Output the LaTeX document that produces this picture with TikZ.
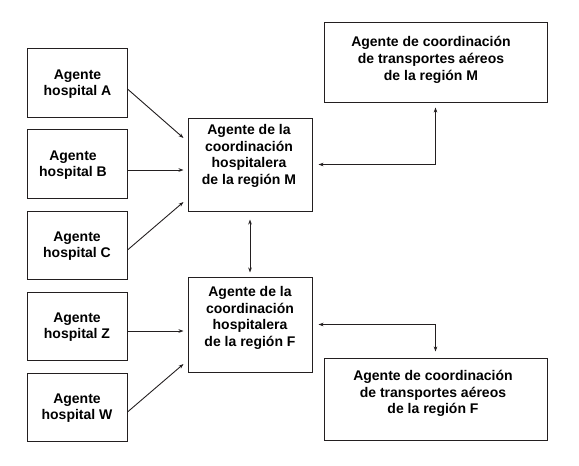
\documentclass[tikz,border=0pt]{standalone}
\usepackage{fontspec}
\setmainfont{Liberation Sans}
\usetikzlibrary{arrows.meta}
\definecolor{ink}{HTML}{231F20}
\begin{document}
\begin{tikzpicture}[x=1pt,y=-1pt,
  box/.style={draw=ink,line width=1pt,inner sep=0pt},
  txt/.style={text=black,align=center,inner sep=0pt,font=\fontsize{14}{16.7}\selectfont\bfseries},
  arr/.style={draw=ink,line width=0.9pt,-{Stealth[length=5pt,width=3.6pt]}},
  arrb/.style={draw=ink,line width=0.9pt,{Stealth[length=5pt,width=3.6pt]}-{Stealth[length=5pt,width=3.6pt]}}]
\useasboundingbox (0,0) rectangle (579,466);
% hospital boxes
\node[box,minimum width=100pt,minimum height=69pt] (a) at (77,82.5) {};
\node[box,minimum width=100pt,minimum height=69pt] (b) at (77,163.5) {};
\node[box,minimum width=100pt,minimum height=68pt] (c) at (77,245) {};
\node[box,minimum width=100pt,minimum height=68pt] (z) at (77,326) {};
\node[box,minimum width=100pt,minimum height=68pt] (w) at (77,407) {};
\node[txt] (at) at (77.5,84) {Agente\\hospital A};
\node[txt] (bt) at (73,165) {Agente\\hospital B};
\node[txt] (ct) at (77,246) {Agente\\hospital C};
\node[txt] (zt) at (77,327) {Agente\\hospital Z};
\node[txt] (wt) at (77,408) {Agente\\hospital W};
% coordination boxes
\node[box,minimum width=124pt,minimum height=93pt] (m) at (250,164.5) {};
\node[box,minimum width=124pt,minimum height=95pt] (f) at (250,324.5) {};
\node[txt] (mt) at (249,156) {Agente de la\\coordinación\\hospitalera\\de la región M};
\node[txt] (ft) at (250,318) {Agente de la\\coordinación\\hospitalera\\de la región F};
% transport boxes
\node[box,minimum width=223pt,minimum height=80pt] (tm) at (435.5,62) {};
\node[box,minimum width=223pt,minimum height=82pt] (tf) at (435.5,399) {};
\node[txt] (tmt) at (431,60) {Agente de coordinación\\de transportes aéreos\\de la región M};
\node[txt] (tft) at (433,393.5) {Agente de coordinación\\de transportes aéreos\\de la región F};
% connectors
\draw[arr] (a.east |- 0,89) -- ([xshift=-4pt]m.west |- 0,138);
\draw[arr] (b.east |- 0,170) -- ([xshift=-4pt]m.west |- 0,170);
\draw[arr] (c.east |- 0,250) -- ([xshift=-4pt]m.west |- 0,202);
\draw[arr] (z.east |- 0,331) -- ([xshift=-4pt]f.west |- 0,331);
\draw[arr] (w.east |- 0,412) -- ([xshift=-4pt]f.west |- 0,364);
\draw[arrb] ([yshift=-8pt]m.south) -- ([yshift=4pt]f.north);
\draw[arrb] ([xshift=6pt]m.east) -| ([yshift=-5pt]tm.south);
\draw[arrb] ([xshift=6pt]f.east) -| ([yshift=6pt]tf.north);
\end{tikzpicture}
\end{document}
